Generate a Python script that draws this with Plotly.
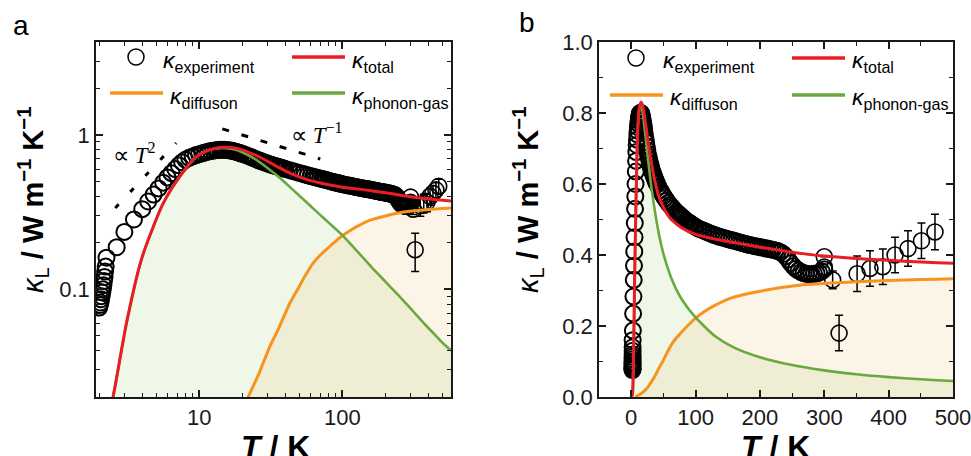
import plotly.graph_objects as go

W, H = 971, 456

# ---------------- data ----------------
# experimental kappa_L (dense measurement)
T_exp = [2.00, 2.02, 2.04, 2.06, 2.08, 2.10, 2.12, 2.14, 2.16, 2.18, 2.20, 2.22, 2.25,
         2.65, 3.0, 3.5, 4.0, 4.4, 4.8, 5.2, 5.6, 6.0, 6.4, 6.8, 7.2, 7.6, 8.0,
         8.5, 9.0, 9.5, 10, 10.5, 11, 11.5, 12, 12.5, 13, 13.5, 14, 14.5, 15, 15.5, 16,
         16.5, 17, 17.5, 18, 18.5, 19, 19.5, 20,
         21, 22, 23, 24, 25, 26, 27, 28, 29, 30, 31, 32, 33, 34, 35, 36, 37, 38, 39, 40,
         42.5, 45, 47.5, 50, 52.5, 55, 57.5, 60, 62.5, 65, 67.5, 70, 72.5, 75, 77.5, 80,
         82.5, 85, 87.5, 90, 92.5, 95, 97.5, 100,
         104, 108, 112, 116, 120, 124, 128, 132, 136, 140, 144, 148, 152, 156, 160, 164,
         168, 172, 176, 180, 184, 188, 192, 196, 200, 204, 208, 212, 216, 220, 224, 228,
         232, 236, 240, 244, 248, 252, 256, 260, 264, 268, 272, 276, 280, 284, 288, 292,
         296, 300]
k_exp = [0.076, 0.079, 0.082, 0.086, 0.090, 0.095, 0.100, 0.106, 0.113, 0.120, 0.130, 0.140, 0.160,
         0.187, 0.235, 0.283, 0.330, 0.370, 0.410, 0.450, 0.490, 0.530, 0.565, 0.600, 0.635, 0.665, 0.690,
         0.710, 0.725, 0.740, 0.750, 0.760, 0.770, 0.778, 0.785, 0.790, 0.795, 0.798, 0.800, 0.800, 0.800, 0.799, 0.796,
         0.792, 0.788, 0.783, 0.778, 0.772, 0.766, 0.760, 0.754,
         0.742, 0.730, 0.718, 0.706, 0.695, 0.685, 0.676, 0.668, 0.660, 0.653, 0.646, 0.640, 0.634, 0.629, 0.624, 0.619, 0.614, 0.609, 0.605, 0.601,
         0.592, 0.583, 0.575, 0.567, 0.560, 0.553, 0.547, 0.541, 0.536, 0.531, 0.526, 0.521, 0.517, 0.513, 0.509, 0.505,
         0.501, 0.497, 0.494, 0.491, 0.488, 0.485, 0.482, 0.479,
         0.475, 0.472, 0.469, 0.466, 0.463, 0.460, 0.457, 0.455, 0.452, 0.450, 0.448, 0.446, 0.444, 0.442, 0.440, 0.438,
         0.436, 0.434, 0.432, 0.430, 0.428, 0.427, 0.425, 0.424, 0.422, 0.421, 0.419, 0.418, 0.416, 0.415, 0.413, 0.411,
         0.408, 0.403, 0.396, 0.387, 0.377, 0.368, 0.361, 0.356, 0.352, 0.349, 0.347, 0.346, 0.346, 0.347, 0.348, 0.350,
         0.354, 0.360]

# experimental kappa_L (high-T points with error bars)
T_hi = [300, 300, 313, 323, 351, 371, 391, 410, 430, 451, 472]
k_hi = [0.395, 0.366, 0.330, 0.180, 0.347, 0.362, 0.367, 0.400, 0.418, 0.440, 0.465]
e_hi = [0.0, 0.0, 0.025, 0.05, 0.05, 0.05, 0.05, 0.05, 0.05, 0.05, 0.05]

# model: total and phonon-gas
T_mod = [1.0, 2.0, 2.5, 3.1, 3.9, 4.5, 5.6, 7.25, 9.5, 11, 13, 15.5, 18, 20, 25, 30, 36, 43,
         50, 60, 70, 80, 100, 130, 160, 200, 250, 300, 350, 400, 450, 500, 575]
k_total = [0.001, 0.008, 0.020, 0.060, 0.150, 0.220, 0.360, 0.530, 0.720, 0.780, 0.820, 0.830, 0.820, 0.800,
           0.735, 0.675, 0.615, 0.565, 0.535, 0.505, 0.488, 0.475, 0.458, 0.445, 0.435, 0.422, 0.408,
           0.397, 0.390, 0.385, 0.380, 0.377, 0.373]
k_phonon = [0.001, 0.008, 0.020, 0.060, 0.150, 0.220, 0.360, 0.530, 0.720, 0.780, 0.815, 0.820, 0.800, 0.772,
            0.690, 0.610, 0.533, 0.460, 0.404, 0.346, 0.303, 0.271, 0.224, 0.172, 0.139, 0.112, 0.090,
            0.075, 0.064, 0.056, 0.050, 0.045, 0.040]

# model: diffuson
T_dif = [6, 8, 10, 12.5, 15, 18, 22, 26, 31, 36, 43, 50, 55, 62, 70, 80, 90, 100, 115, 130, 157, 200,
         267, 350, 450, 500, 575]
k_dif = [0.0008, 0.002, 0.004, 0.0065, 0.009, 0.013, 0.020, 0.028, 0.042, 0.056, 0.081, 0.104, 0.122, 0.146,
         0.166, 0.186, 0.205, 0.222, 0.242, 0.258, 0.280, 0.298, 0.316, 0.325, 0.331, 0.333, 0.336]

# guide lines (proportional to T^2 and T^-1)
guide_a_T = [2.59, 6.9]
guide_a_k = [0.336, 0.887]
guide_b_T = [14.5, 70.2]
guide_b_k = [1.094, 0.698]

RED = '#ec1c24'
ORANGE = '#f7941d'
GREEN = '#69a93e'
GFILL = 'rgba(150,200,100,0.15)'
OFILL = 'rgba(240,170,80,0.13)'
AX = '#1a1a1a'

fig = go.Figure()

for xa, ya, sm in [('x', 'y', 0.7), ('x2', 'y2', 0.6)]:
    fig.add_trace(go.Scatter(x=T_mod, y=k_phonon, xaxis=xa, yaxis=ya, mode='lines',
                             line=dict(color='rgba(0,0,0,0)', width=0, shape='spline', smoothing=sm),
                             fill='tozeroy', fillcolor=GFILL, hoverinfo='skip', showlegend=False))
    fig.add_trace(go.Scatter(x=T_dif, y=k_dif, xaxis=xa, yaxis=ya, mode='lines',
                             line=dict(color='rgba(0,0,0,0)', width=0, shape='spline', smoothing=sm),
                             fill='tozeroy', fillcolor=OFILL, hoverinfo='skip', showlegend=False))
    fig.add_trace(go.Scatter(x=T_exp, y=k_exp, xaxis=xa, yaxis=ya, mode='markers',
                             marker=dict(symbol='circle-open', size=16, color='black',
                                         line=dict(width=2.0, color='black')),
                             showlegend=False))
    fig.add_trace(go.Scatter(x=T_hi, y=k_hi, xaxis=xa, yaxis=ya, mode='markers',
                             marker=dict(symbol='circle-open', size=16, color='black',
                                         line=dict(width=1.6, color='black')),
                             error_y=dict(type='data', array=e_hi, visible=True, color='black',
                                          thickness=1.5, width=4),
                             showlegend=False))
    fig.add_trace(go.Scatter(x=T_dif, y=k_dif, xaxis=xa, yaxis=ya, mode='lines',
                             line=dict(color=ORANGE, width=3, shape='spline', smoothing=sm), showlegend=False))
    fig.add_trace(go.Scatter(x=T_mod, y=k_phonon, xaxis=xa, yaxis=ya, mode='lines',
                             line=dict(color=GREEN, width=2.6, shape='spline', smoothing=sm), showlegend=False))
    fig.add_trace(go.Scatter(x=T_mod, y=k_total, xaxis=xa, yaxis=ya, mode='lines',
                             line=dict(color=RED, width=3, shape='spline', smoothing=sm), showlegend=False))

fig.add_trace(go.Scatter(x=guide_a_T, y=guide_a_k, xaxis='x', yaxis='y', mode='lines',
                         line=dict(color='black', width=3, dash='5px,17px'), showlegend=False))
fig.add_trace(go.Scatter(x=guide_b_T, y=guide_b_k, xaxis='x', yaxis='y', mode='lines',
                         line=dict(color='black', width=3, dash='7px,13px'), showlegend=False))

def px(x):
    return x / W

def py(y):
    return 1 - y / H

tickfont = dict(family='Liberation Sans, Arial', size=22, color='#1a1a1a')

def axis_common():
    return dict(showline=True, linecolor=AX, linewidth=1.5, mirror='allticks', ticks='inside',
                ticklen=7, tickwidth=1.5, tickcolor=AX, showgrid=False, zeroline=False,
                tickfont=tickfont, layer='above traces', ticklabeloverflow='allow',
                automargin=False)

minor_log_x = [m * d for d in (1, 10, 100) for m in range(2, 10) if 1.9 <= m * d <= 575]
minor_log_y = [m * d for d in (0.01, 0.1, 1) for m in range(2, 10) if 0.02 <= m * d <= 4]

fig.update_layout(
    template='none',
    width=W, height=H, autosize=False, margin=dict(l=0, r=0, t=0, b=0, pad=0),
    paper_bgcolor='white', plot_bgcolor='white',
    xaxis=dict(domain=[px(96), px(451)], type='log', range=[0.2788, 2.7597],
               tickmode='array', tickvals=[10, 100], ticktext=['10', '100'],
               minor=dict(tickmode='array', tickvals=minor_log_x, ticks='inside', ticklen=4,
                          tickwidth=1.3, tickcolor=AX, showgrid=False),
               anchor='y', **axis_common()),
    yaxis=dict(domain=[py(397), py(42)], type='log', range=[-1.699, 0.602],
               tickmode='array', tickvals=[0.1, 1], ticktext=['0.1', '1'],
               minor=dict(tickmode='array', tickvals=minor_log_y, ticks='inside', ticklen=4,
                          tickwidth=1.3, tickcolor=AX, showgrid=False),
               anchor='x', **axis_common()),
    xaxis2=dict(domain=[px(599), px(953)], range=[-50, 500], dtick=100, tick0=0,
                minor=dict(dtick=50, ticks='inside', ticklen=4, tickwidth=1.3,
                           tickcolor=AX, showgrid=False),
                anchor='y2', **axis_common()),
    yaxis2=dict(domain=[py(397), py(42)], range=[0, 1.0], dtick=0.2, tick0=0, tickformat='.1f',
                minor=dict(dtick=0.1, ticks='inside', ticklen=4, tickwidth=1.3,
                           tickcolor=AX, showgrid=False),
                anchor='x2', **axis_common()),
)

ann = []
shapes = []
lab_font = dict(family='Liberation Sans, Arial', size=23, color='black')

def A(x, y, text, font, **kw):
    d = dict(x=px(x), y=py(y), xref='paper', yref='paper', showarrow=False,
             text=text, font=font, xanchor=kw.pop('xanchor', 'center'),
             yanchor=kw.pop('yanchor', 'middle'))
    d.update(kw)
    ann.append(d)

def legend_block(cx_circle, cy1, xt1, x_red, xt2, x_or, xt3, cy2):
    shapes.append(dict(type='circle', xref='paper', yref='paper',
                       x0=px(cx_circle - 8), x1=px(cx_circle + 8),
                       y0=py(cy1 + 8), y1=py(cy1 - 8),
                       line=dict(color='black', width=1.5)))
    A(xt1, cy1 + 4, '<i>κ</i><sub>experiment</sub>', lab_font, xanchor='left')
    shapes.append(dict(type='line', xref='paper', yref='paper', x0=px(x_red), x1=px(x_red + 53),
                       y0=py(cy1), y1=py(cy1), line=dict(color=RED, width=3.5)))
    A(xt2, cy1 + 4, '<i>κ</i><sub>total</sub>', lab_font, xanchor='left')
    shapes.append(dict(type='line', xref='paper', yref='paper', x0=px(x_or), x1=px(x_or + 53),
                       y0=py(cy2), y1=py(cy2), line=dict(color=ORANGE, width=3.5)))
    A(xt3, cy2 + 4, '<i>κ</i><sub>diffuson</sub>', lab_font, xanchor='left')
    shapes.append(dict(type='line', xref='paper', yref='paper', x0=px(x_red), x1=px(x_red + 53),
                       y0=py(cy2), y1=py(cy2), line=dict(color=GREEN, width=3.5)))
    A(xt2, cy2 + 4, '<i>κ</i><sub>phonon-gas</sub>', lab_font, xanchor='left')

legend_block(136, 57, 161, 292, 350, 110, 168, 93)
legend_block(636, 58, 661, 792, 850, 610, 668, 95)

# guide line labels
serif = dict(family='Liberation Serif, Times New Roman', size=23, color='black')
A(134, 153, '∝ <i>T</i><sup>2</sup>', serif)
A(317, 133, '∝ <i>T</i><sup>−1</sup>', serif)

# panel labels
A(21, 25, 'a', dict(family='Liberation Sans, Arial', size=28, color='black'))
A(527, 22, 'b', dict(family='Liberation Sans, Arial', size=28, color='black'))

# axis titles
title_font = dict(family='Liberation Sans, Arial', size=32, color='black')
for cx in (275, 775):
    A(cx, 447, '<b><i>T</i> / K</b>', title_font)
yt_font = dict(family='Liberation Sans, Arial', size=29, color='black')
for cx in (33, 528):
    A(cx, 200, '<i>κ</i><sub>L</sub><b> / W m<sup>−1</sup> K<sup>−1</sup></b>', yt_font, textangle=-90)

fig.update_layout(annotations=ann, shapes=shapes)
fig.write_html('out.html')
